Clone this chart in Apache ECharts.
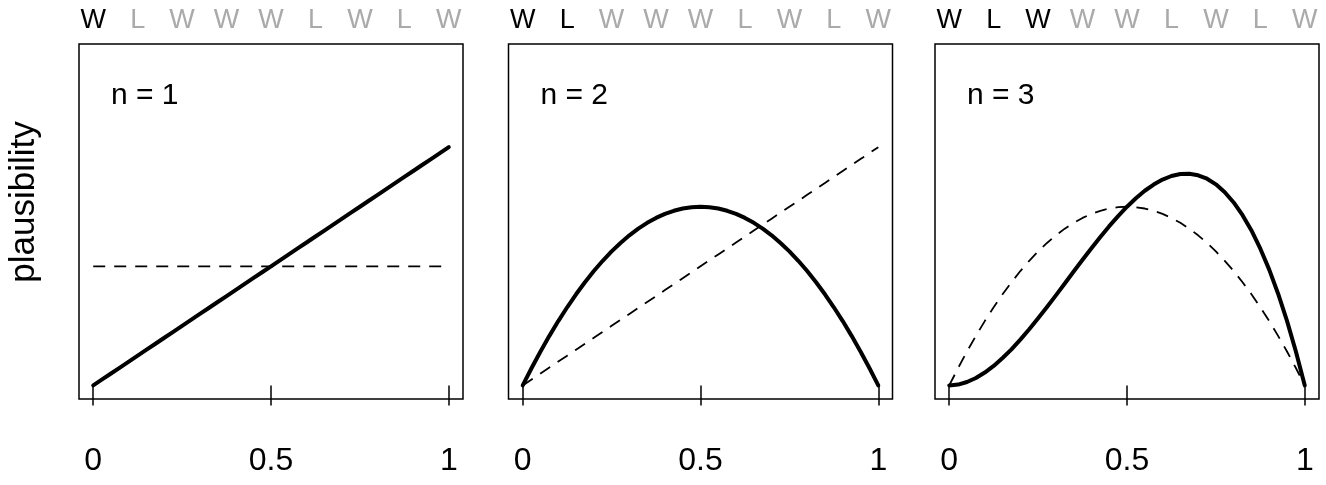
<!DOCTYPE html>
<html>
<head>
<meta charset="utf-8">
<style>
  html, body { margin: 0; padding: 0; background: #fff; }
  #chart { width: 1326px; height: 485px; }
</style>
<script src="https://cdn.jsdelivr.net/npm/echarts@6/dist/echarts.min.js"></script>
</head>
<body>
<div id="chart"></div>
<script>
// Sequence of globe tosses (W = water, L = land)
const tosses = ['W', 'L', 'W', 'W', 'W', 'L', 'W', 'L', 'W'];

// Proportion of water grid on which the curves are evaluated
const pGrid = [0, 0.025, 0.05, 0.075, 0.1, 0.125, 0.15, 0.175, 0.2, 0.225,
               0.25, 0.275, 0.3, 0.325, 0.35, 0.375, 0.4, 0.425, 0.45, 0.475,
               0.5, 0.525, 0.55, 0.575, 0.6, 0.625, 0.65, 0.675, 0.7, 0.725,
               0.75, 0.775, 0.8, 0.825, 0.85, 0.875, 0.9, 0.925, 0.95, 0.975, 1];

// Plausibility before any data (flat prior)
const plausFlat = [1, 1, 1, 1, 1, 1, 1, 1, 1, 1,
                   1, 1, 1, 1, 1, 1, 1, 1, 1, 1,
                   1, 1, 1, 1, 1, 1, 1, 1, 1, 1,
                   1, 1, 1, 1, 1, 1, 1, 1, 1, 1, 1];
// After W
const plausN1 = [0, 0.05, 0.1, 0.15, 0.2, 0.25, 0.3, 0.35, 0.4, 0.45,
                 0.5, 0.55, 0.6, 0.65, 0.7, 0.75, 0.8, 0.85, 0.9, 0.95,
                 1.0, 1.05, 1.1, 1.15, 1.2, 1.25, 1.3, 1.35, 1.4, 1.45,
                 1.5, 1.55, 1.6, 1.65, 1.7, 1.75, 1.8, 1.85, 1.9, 1.95, 2.0];
// After W L
const plausN2 = [0, 0.146, 0.285, 0.416, 0.54, 0.656, 0.765, 0.866, 0.96, 1.046,
                 1.125, 1.196, 1.26, 1.316, 1.365, 1.406, 1.44, 1.466, 1.485, 1.496,
                 1.5, 1.496, 1.485, 1.466, 1.44, 1.406, 1.365, 1.316, 1.26, 1.196,
                 1.125, 1.046, 0.96, 0.866, 0.765, 0.656, 0.54, 0.416, 0.285, 0.146, 0];
// After W L W
const plausN3 = [0, 0.007, 0.029, 0.062, 0.108, 0.164, 0.230, 0.303, 0.384, 0.471,
                 0.563, 0.658, 0.756, 0.856, 0.956, 1.055, 1.152, 1.246, 1.337, 1.421,
                 1.5, 1.571, 1.634, 1.686, 1.728, 1.758, 1.775, 1.777, 1.764, 1.735,
                 1.688, 1.622, 1.536, 1.429, 1.301, 1.148, 0.972, 0.770, 0.542, 0.285, 0];

const panelLabels = ['n = 1', 'n = 2', 'n = 3'];
const tickValues = [0, 0.5, 1];
const tickLabels = ['0', '0.5', '1'];
const yTitle = 'plausibility';

// Each panel: previous curve (dashed) and updated curve (solid)
const panels = [
  { n: 1, prev: plausFlat, curr: plausN1 },
  { n: 2, prev: plausN1, curr: plausN2 },
  { n: 3, prev: plausN2, curr: plausN3 }
];

const FONT = '"Liberation Sans", Arial, Helvetica, sans-serif';
const GRAY = '#aaaaaa';

// Plot-region placement for the three panels
const gridLeft = [79, 508.5, 935];
const gridWidth = 384;
const gridTop = 44;
const gridHeight = 355;

const X_MIN = -0.04, X_MAX = 1.04;
const Y_MIN = -0.114, Y_MAX = 2.866;

const tossPos = tosses.map((_, i) => i / (tosses.length - 1));
const pairs = arr => pGrid.map((p, i) => [p, arr[i]]);

const grids = [], xAxes = [], yAxes = [], series = [], titles = [];

panels.forEach((pn, k) => {
  grids.push({
    left: gridLeft[k], top: gridTop, width: gridWidth, height: gridHeight,
    show: true, borderColor: '#000', borderWidth: 1.5, backgroundColor: 'transparent'
  });

  // bottom axis: proportion of water
  xAxes.push({
    type: 'value', gridIndex: k, position: 'bottom',
    min: X_MIN, max: X_MAX,
    splitLine: { show: false },
    axisLine: { show: false },
    axisTick: { show: true, customValues: tickValues, length: 20,
                lineStyle: { color: '#000', width: 1.5 } },
    axisLabel: {
      show: true, customValues: tickValues, margin: 46,
      fontSize: 32, color: '#000', fontFamily: FONT,
      formatter: v => tickLabels[tickValues.indexOf(Math.round(v * 1000) / 1000)]
    }
  });

  // top axis: the toss sequence, tosses seen so far in black
  xAxes.push({
    type: 'value', gridIndex: k, position: 'top',
    min: X_MIN, max: X_MAX,
    splitLine: { show: false },
    axisLine: { show: false },
    axisTick: { show: false },
    axisLabel: {
      show: true, customValues: tossPos, margin: 10,
      fontFamily: FONT,
      formatter: (v) => {
        const i = tossPos.findIndex(t => Math.abs(t - v) < 1e-6);
        return (i < pn.n ? '{k|' : '{g|') + tosses[i] + '}';
      },
      rich: {
        k: { fontSize: 27, color: '#000', fontFamily: FONT },
        g: { fontSize: 27, color: GRAY, fontFamily: FONT }
      }
    }
  });

  yAxes.push({
    type: 'value', gridIndex: k, min: Y_MIN, max: Y_MAX,
    axisLine: { show: false }, axisTick: { show: false },
    axisLabel: { show: false }, splitLine: { show: false }
  });

  series.push({
    type: 'line', xAxisIndex: 2 * k, yAxisIndex: k,
    data: pairs(pn.prev), showSymbol: false, silent: true,
    lineStyle: { color: '#000', width: 1.8, type: [12, 9] }
  });
  series.push({
    type: 'line', xAxisIndex: 2 * k, yAxisIndex: k,
    data: pairs(pn.curr), showSymbol: false, silent: true,
    lineStyle: { color: '#000', width: 4, cap: 'round', join: 'round' }
  });

  titles.push({
    text: panelLabels[k],
    left: gridLeft[k] + 27, top: 76,
    textStyle: { fontSize: 30, fontWeight: 'normal', color: '#000', fontFamily: FONT }
  });
});

const chart = echarts.init(document.getElementById('chart'), null, { renderer: 'canvas' });
chart.setOption({
  animation: false,
  backgroundColor: '#fff',
  title: titles,
  grid: grids,
  xAxis: xAxes,
  yAxis: yAxes,
  series: series,
  // rotated y-axis title to the left of the first panel
  graphic: [{
    type: 'text', x: 24, y: 202, rotation: Math.PI / 2,
    style: {
      text: yTitle, fill: '#000', font: '35px ' + FONT,
      textAlign: 'center', textVerticalAlign: 'middle'
    }
  }]
});
</script>
</body>
</html>
